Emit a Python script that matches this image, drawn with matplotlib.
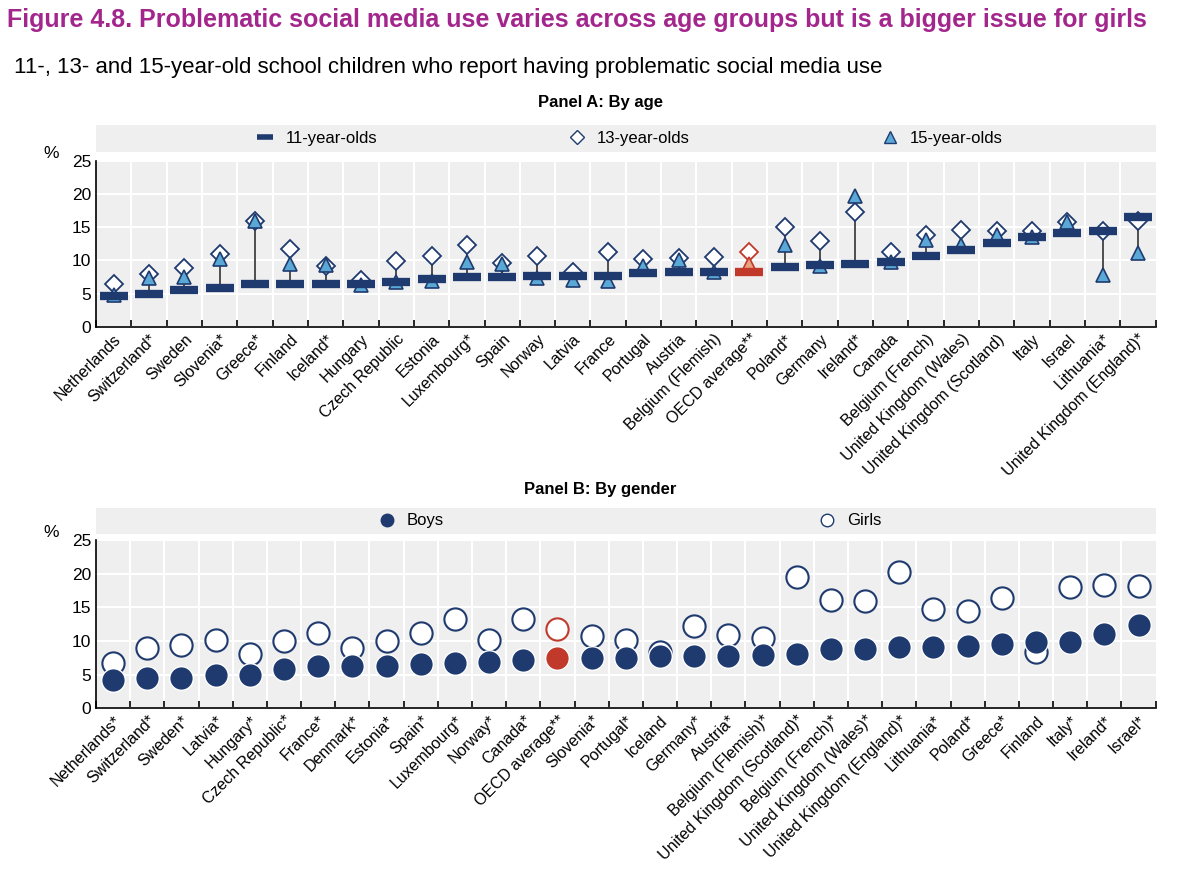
import numpy as np
import matplotlib.pyplot as plt
from matplotlib.lines import Line2D

plt.rcParams['font.family'] = ['Liberation Sans', 'DejaVu Sans']

# ---- Panel A data ----
countries_a = ["Netherlands", "Switzerland*", "Sweden", "Slovenia*", "Greece*", "Finland", "Iceland*",
               "Hungary", "Czech Republic", "Estonia", "Luxembourg*", "Spain", "Norway", "Latvia",
               "France", "Portugal", "Austria", "Belgium (Flemish)", "OECD average**", "Poland*",
               "Germany", "Ireland*", "Canada", "Belgium (French)", "United Kingdom (Wales)",
               "United Kingdom (Scotland)", "Italy", "Israel", "Lithuania*", "United Kingdom (England)*"]
age11 = [4.6, 5.0, 5.6, 5.8, 6.5, 6.5, 6.5, 6.5, 6.7, 7.2, 7.5, 7.5, 7.7, 7.7, 7.7, 8.1, 8.2, 8.2,
         8.2, 9.0, 9.3, 9.5, 9.8, 10.6, 11.5, 12.7, 13.6, 14.2, 14.5, 16.5]
age13 = [6.5, 7.9, 8.8, 10.9, 16.0, 11.8, 9.2, 7.0, 9.9, 10.6, 12.3, 9.6, 10.6, 8.3, 11.2, 10.2,
         10.4, 10.5, 11.3, 15.0, 12.9, 17.3, 11.2, 13.9, 14.6, 14.5, 14.4, 15.8, 14.4, 15.9]
age15 = [4.8, 7.3, 7.5, 10.2, 16.0, 9.5, 9.3, 6.3, 6.8, 6.9, 9.8, 9.5, 7.3, 7.0, 6.9, 9.2, 10.0,
         8.3, 9.4, 12.3, 9.1, 19.8, 9.8, 13.1, 12.3, 13.8, 13.5, 15.8, 7.8, 11.1]

# ---- Panel B data ----
countries_b = ["Netherlands*", "Switzerland*", "Sweden*", "Latvia*", "Hungary*", "Czech Republic*",
               "France*", "Denmark*", "Estonia*", "Spain*", "Luxembourg*", "Norway*", "Canada*",
               "OECD average**", "Slovenia*", "Portugal*", "Iceland", "Germany*", "Austria*",
               "Belgium (Flemish)*", "United Kingdom (Scotland)*", "Belgium (French)*",
               "United Kingdom (Wales)*", "United Kingdom (England)*", "Lithuania*", "Poland*",
               "Greece*", "Finland", "Italy*", "Ireland*", "Israel*"]
boys = [4.2, 4.5, 4.5, 5.0, 5.0, 5.8, 6.2, 6.3, 6.3, 6.5, 6.7, 6.8, 7.2, 7.4, 7.4, 7.5, 7.7, 7.8,
        7.8, 7.9, 8.1, 8.8, 8.8, 9.1, 9.1, 9.2, 9.5, 9.9, 9.9, 11.0, 12.4]
girls = [6.7, 9.0, 9.4, 10.2, 8.1, 10.0, 11.2, 9.0, 10.0, 11.2, 13.3, 10.2, 13.3, 11.8, 10.7, 10.2,
         8.3, 12.2, 10.9, 10.4, 19.5, 16.1, 15.9, 20.2, 14.8, 14.4, 16.4, 8.4, 18.0, 18.3, 18.1]

NAVY = '#1f3a6e'
LIGHT = '#5aa8d6'
RED = '#c0392b'
BG = '#efefef'

fig = plt.figure(figsize=(12, 8.71), dpi=100)
fig.text(0.006, 0.977, "Figure 4.8. Problematic social media use varies across age groups but is a bigger issue for girls",
         color='#a3268d', fontsize=18, fontweight='bold', va='center')
fig.text(0.012, 0.922, "11-, 13- and 15-year-old school children who report having problematic social media use",
         fontsize=16, va='center')


def style_axis(ax, n):
    ax.set_facecolor(BG)
    ax.set_xlim(-0.5, n - 0.5)
    ax.set_ylim(0, 25)
    ax.set_yticks(range(0, 26, 5))
    ax.grid(axis='y', color='white', linewidth=1.5)
    for b in np.arange(0.5, n - 0.5, 1):
        ax.axvline(b, color='white', linewidth=1.5, zorder=0)
    ax.set_axisbelow(True)
    for s in ['top', 'right']:
        ax.spines[s].set_visible(False)
    ax.spines['left'].set_linewidth(1.2)
    ax.spines['bottom'].set_linewidth(1.2)
    ax.set_xticks(np.arange(-0.5, n, 1), minor=True)
    ax.tick_params(axis='x', which='major', length=0, labelsize=11.5)
    ax.tick_params(axis='x', which='minor', length=5, direction='in', width=1.2)
    ax.tick_params(axis='y', length=0, labelsize=12.5)
    ax.text(-0.035, 1.02, '%', transform=ax.transAxes, fontsize=12.5, ha='right')


# ---- Panel A ----
axA = fig.add_axes([0.08, 0.625, 0.883, 0.19])
n = len(countries_a)
x = np.arange(n)
style_axis(axA, n)
oecd_a = countries_a.index("OECD average**")
for i in x:
    lo = min(age11[i], age13[i], age15[i])
    hi = max(age11[i], age13[i], age15[i])
    axA.plot([i, i], [lo, hi], color='#333333', linewidth=1.2, zorder=2)
for i in x:
    oe = i == oecd_a
    axA.plot(i, age13[i], marker='D', ms=9, mfc='white', mec=RED if oe else NAVY, mew=1.3, zorder=3)
    axA.plot(i, age15[i], marker='^', ms=10, mfc='#e8a07e' if oe else LIGHT, mec=RED if oe else NAVY, mew=1.2, zorder=4)
    axA.plot(i, age11[i], marker='_', ms=20, mew=6, color=RED if oe else NAVY, zorder=5)
axA.set_xticks(x)
axA.set_xticklabels(countries_a, rotation=45, ha='right', rotation_mode='anchor')
fig.text(0.5, 0.877, "Panel A: By age", fontsize=12, fontweight='bold', ha='center')
legA = fig.add_axes([0.08, 0.826, 0.883, 0.03])
legA.set_facecolor(BG)
legA.set_xticks([]); legA.set_yticks([])
for s in legA.spines.values():
    s.set_visible(False)
hA = [Line2D([], [], marker='_', ls='', ms=12, mew=4, color=NAVY),
      Line2D([], [], marker='D', ls='', ms=7, mfc='white', mec=NAVY),
      Line2D([], [], marker='^', ls='', ms=8, mfc=LIGHT, mec=NAVY)]
legA.legend(hA, ["11-year-olds", "13-year-olds", "15-year-olds"], ncol=3, loc='center',
            frameon=False, fontsize=12, columnspacing=11, handletextpad=0.2)

# ---- Panel B ----
axB = fig.add_axes([0.08, 0.187, 0.883, 0.193])
n = len(countries_b)
x = np.arange(n)
style_axis(axB, n)
oecd_b = countries_b.index("OECD average**")
for i in x:
    oe = i == oecd_b
    axB.plot(i, girls[i], marker='o', ms=16, mfc='white', mec=RED if oe else NAVY, mew=1.5, zorder=3)
    axB.plot(i, boys[i], marker='o', ms=17, mfc=RED if oe else NAVY, mec='white', mew=1, zorder=4)
axB.set_xticks(x)
axB.set_xticklabels(countries_b, rotation=45, ha='right', rotation_mode='anchor')
fig.text(0.5, 0.433, "Panel B: By gender", fontsize=12, fontweight='bold', ha='center')
legB = fig.add_axes([0.08, 0.387, 0.883, 0.03])
legB.set_facecolor(BG)
legB.set_xticks([]); legB.set_yticks([])
for s in legB.spines.values():
    s.set_visible(False)
hB = [Line2D([], [], marker='o', ls='', ms=9, mfc=NAVY, mec=NAVY),
      Line2D([], [], marker='o', ls='', ms=9, mfc='white', mec=NAVY)]
legB.legend(hB, ["Boys", "Girls"], ncol=2, loc='center', frameon=False, fontsize=12,
            columnspacing=22, handletextpad=0.2)

fig.savefig('out.png', dpi=100)
